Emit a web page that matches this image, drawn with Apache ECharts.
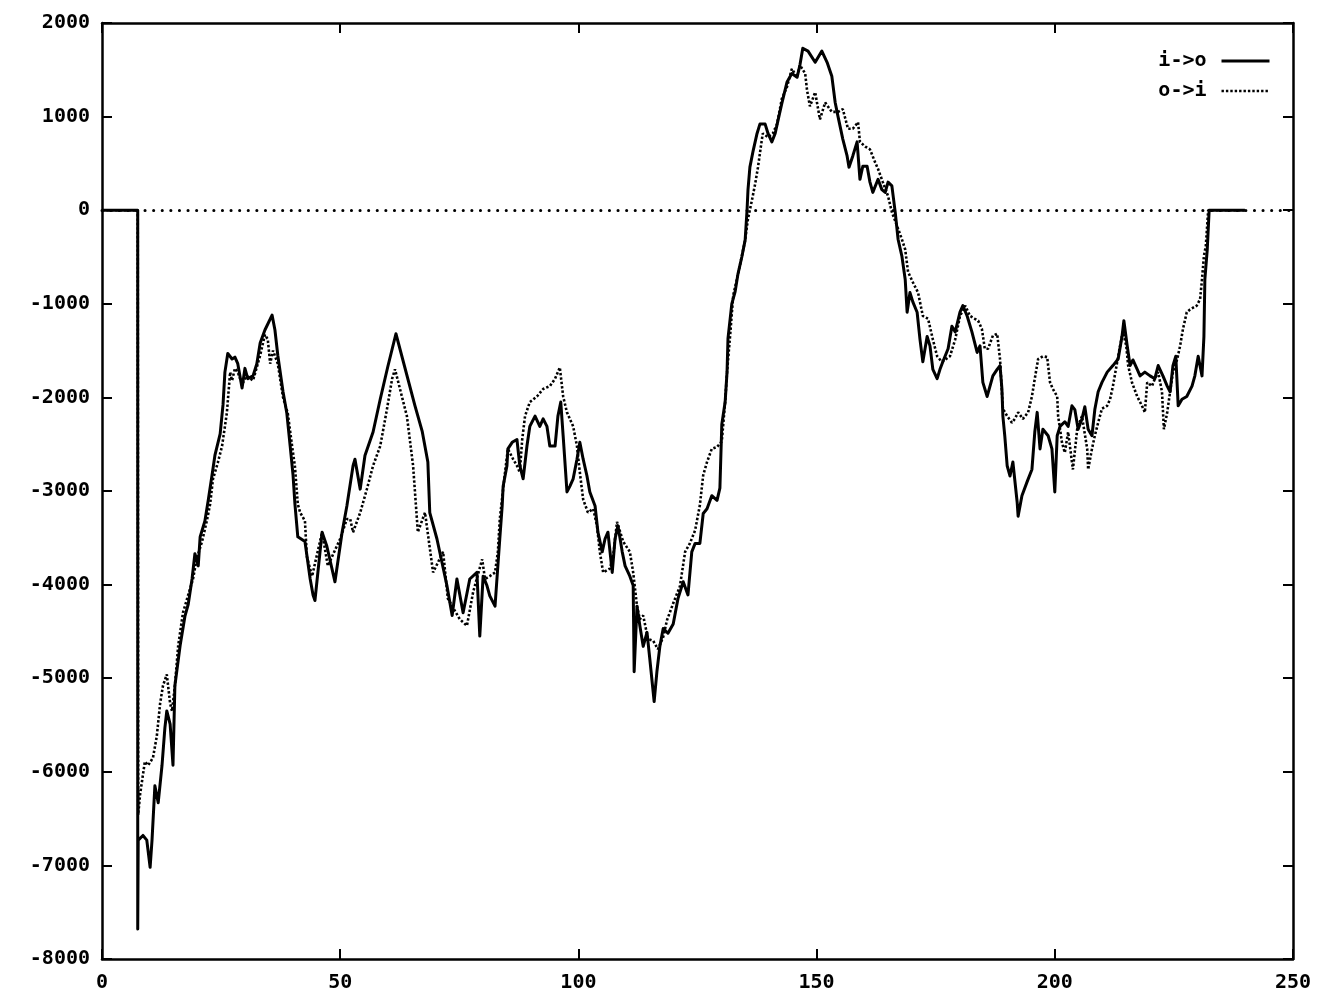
<!DOCTYPE html>
<html>
<head>
<meta charset="utf-8">
<script src="https://cdn.jsdelivr.net/npm/echarts@6/dist/echarts.min.js"></script>
<style>
  html, body { margin: 0; padding: 0; background: #fff; }
  #chart { width: 1327px; height: 999px; }
</style>
</head>
<body>
<div id="chart"></div>
<script>
// Cumulative difference per step, two directions: [step, value]
const ioPoints = [
  [0, 0], [7.5, 0], [7.5, -7680], [7.6, -6730], [8.6, -6680], [9.4, -6730], [10.1, -7020], [10.5, -6730],
  [11.1, -6150], [11.8, -6330], [12.6, -5930], [13.2, -5530], [13.6, -5350], [14.3, -5490], [14.9, -5930],
  [15.3, -5080], [16.4, -4650], [17.4, -4340], [18.1, -4210], [18.9, -3940], [19.5, -3670], [20.2, -3800],
  [20.6, -3490], [21.6, -3320], [22.3, -3100], [23.1, -2830], [23.7, -2620], [24.8, -2390], [25.4, -2080],
  [25.8, -1730], [26.4, -1530], [27.3, -1590], [27.9, -1570], [28.5, -1640], [29.4, -1900], [30.0, -1690],
  [30.6, -1800], [31.7, -1770], [32.5, -1640], [33.2, -1420], [34.2, -1280], [35.7, -1120], [36.3, -1280],
  [36.9, -1550], [38.0, -1940], [38.8, -2170], [39.5, -2520], [40.1, -2830], [40.5, -3140], [41.1, -3490],
  [42.6, -3540], [43.7, -3940], [44.3, -4110], [44.7, -4170], [46.2, -3440], [47.2, -3590], [48.9, -3970],
  [50.4, -3440], [51.4, -3160], [52.7, -2730], [53.1, -2660], [54.2, -2980], [55.2, -2620], [56.9, -2370],
  [58.4, -2020], [60.0, -1670], [61.7, -1320], [65.7, -2090], [67.2, -2360], [68.4, -2690], [68.8, -3230],
  [70.3, -3510], [72.4, -4010], [73.5, -4330], [74.5, -3940], [75.8, -4300], [77.2, -3940], [78.7, -3870],
  [79.3, -4550], [80.0, -3910], [80.8, -4010], [81.4, -4120], [82.5, -4230], [82.9, -3940], [83.5, -3510],
  [84.0, -3160], [84.2, -2950], [85.0, -2730], [85.2, -2550], [86.1, -2480], [87.1, -2450], [87.7, -2730],
  [88.4, -2870], [89.2, -2520], [89.8, -2310], [90.9, -2200], [91.9, -2310], [92.6, -2230], [93.4, -2310],
  [94.0, -2520], [95.1, -2520], [95.7, -2200], [96.3, -2050], [96.8, -2410], [97.6, -3010], [98.2, -2950],
  [98.9, -2870], [99.7, -2660], [100.3, -2480], [101.0, -2660], [101.8, -2840], [102.4, -3010], [103.5, -3160],
  [104.1, -3440], [105.0, -3650], [105.6, -3510], [106.2, -3440], [107.1, -3870], [107.7, -3510], [108.3, -3370],
  [109.2, -3650], [109.8, -3800], [110.8, -3910], [111.5, -4010], [111.7, -4930], [112.3, -4230], [112.9, -4440],
  [113.6, -4660], [114.4, -4510], [115.0, -4800], [115.9, -5250], [116.5, -4920], [117.1, -4660], [117.8, -4470],
  [118.8, -4520], [119.9, -4420], [120.9, -4150], [122.0, -3970], [123.0, -4110], [123.8, -3650], [124.5, -3560],
  [125.5, -3560], [126.2, -3240], [127.0, -3190], [128.0, -3050], [129.1, -3100], [129.7, -2970], [130.1, -2290],
  [130.8, -2050], [131.2, -1730], [131.4, -1370], [132.2, -1000], [132.9, -870], [133.5, -680], [134.3, -500],
  [135.0, -320], [135.4, 0], [135.6, 220], [136.0, 460], [136.7, 640], [137.5, 820], [138.1, 920], [139.2, 920],
  [139.8, 820], [140.6, 730], [141.3, 820], [141.9, 960], [142.7, 1140], [143.8, 1370], [144.8, 1460],
  [145.9, 1420], [146.5, 1550], [147.1, 1730], [148.2, 1700], [149.7, 1580], [151.1, 1700], [152.2, 1580],
  [153.2, 1430], [153.9, 1150], [154.5, 1000], [155.5, 760], [156.4, 580], [156.8, 460], [157.6, 580],
  [158.5, 730], [159.1, 330], [159.7, 470], [160.6, 470], [161.2, 300], [161.8, 190], [162.9, 330],
  [163.7, 220], [164.4, 190], [165.0, 300], [165.8, 260], [166.5, -20], [167.1, -310], [167.9, -490],
  [168.6, -740], [169.0, -1090], [169.6, -880], [170.2, -980], [171.1, -1090], [171.7, -1380], [172.3, -1620],
  [173.2, -1350], [173.8, -1450], [174.4, -1700], [175.3, -1800], [175.9, -1700], [176.5, -1620], [177.6, -1480],
  [178.4, -1240], [179.1, -1300], [180.1, -1090], [180.7, -1020], [181.6, -1130], [182.6, -1300], [183.7, -1520],
  [184.3, -1450], [184.9, -1840], [185.8, -1990], [186.4, -1880], [187.0, -1770], [187.9, -1700], [188.5, -1660],
  [188.9, -1910], [189.1, -2200], [189.5, -2410], [190.0, -2730], [190.6, -2840], [191.2, -2690], [192.1, -3120],
  [192.3, -3270], [193.1, -3050], [194.2, -2900], [195.2, -2770], [195.8, -2370], [196.3, -2160], [196.9, -2550],
  [197.5, -2340], [198.6, -2410], [199.4, -2550], [200.0, -3010], [200.5, -2410], [201.1, -2310], [202.1, -2260],
  [202.8, -2310], [203.6, -2090], [204.2, -2130], [204.9, -2340], [205.7, -2230], [206.3, -2100], [207.0, -2340],
  [207.8, -2410], [208.4, -2130], [209.1, -1940], [209.9, -1840], [211.0, -1730], [212.2, -1660], [213.3, -1590],
  [214.1, -1350], [214.5, -1180], [215.2, -1450], [215.8, -1660], [216.4, -1600], [217.3, -1700], [217.9, -1770],
  [218.9, -1730], [220.0, -1770], [221.0, -1800], [221.7, -1660], [222.7, -1770], [223.6, -1880], [224.2, -1940],
  [224.8, -1660], [225.4, -1560], [225.9, -2090], [226.7, -2020], [227.7, -1990], [228.8, -1880], [229.4, -1770],
  [230.1, -1560], [230.9, -1770], [231.3, -1350], [231.5, -740], [232.0, -420], [232.4, 0], [239.9, 0]
];

const oiPoints = [
  [0, 0], [7.5, 0], [7.6, -6460], [8.0, -6240], [9.0, -5890], [9.7, -5930], [10.7, -5850], [11.5, -5620],
  [12.2, -5270], [12.8, -5080], [13.6, -4960], [14.3, -5270], [14.7, -5350], [15.3, -5080], [16.0, -4650],
  [17.0, -4300], [18.1, -4110], [19.1, -3940], [19.9, -3720], [21.0, -3540], [22.0, -3320], [22.7, -3140],
  [23.3, -2870], [24.3, -2700], [25.2, -2520], [26.2, -2170], [26.9, -1730], [27.3, -1820], [27.9, -1690],
  [28.5, -1730], [29.4, -1860], [30.4, -1770], [31.7, -1820], [33.2, -1550], [34.2, -1330], [34.8, -1380],
  [35.3, -1640], [35.9, -1500], [36.9, -1640], [38.0, -2000], [39.0, -2170], [39.9, -2520], [40.5, -2740],
  [41.1, -3140], [41.6, -3230], [42.6, -3320], [43.0, -3700], [44.1, -3910], [46.2, -3440], [47.4, -3800],
  [50.0, -3510], [51.4, -3300], [52.1, -3300], [52.7, -3440], [54.2, -3230], [55.6, -2980], [56.9, -2730],
  [58.4, -2520], [59.8, -2130], [60.9, -1800], [61.5, -1700], [64.0, -2200], [65.3, -2730], [66.3, -3440],
  [67.8, -3230], [69.5, -3870], [71.6, -3650], [72.6, -4150], [75.1, -4370], [76.6, -4440], [77.9, -4080],
  [79.8, -3730], [80.4, -3940], [81.4, -3910], [82.5, -3870], [83.1, -3650], [83.5, -3300], [84.2, -2980],
  [84.6, -2800], [85.2, -2550], [86.3, -2660], [87.1, -2730], [87.7, -2800], [88.2, -2450], [88.8, -2200],
  [89.8, -2050], [91.3, -1990], [92.6, -1910], [94.0, -1880], [95.1, -1800], [96.1, -1680], [96.8, -1990],
  [97.6, -2160], [98.9, -2310], [99.7, -2520], [100.3, -2800], [101.0, -3090], [102.0, -3230], [103.1, -3190],
  [103.9, -3370], [104.5, -3650], [105.2, -3870], [106.6, -3830], [107.3, -3700], [108.1, -3330], [109.4, -3540],
  [110.8, -3650], [111.5, -3870], [112.3, -4230], [112.9, -4370], [113.6, -4330], [114.6, -4580], [115.7, -4600],
  [116.7, -4690], [117.8, -4560], [118.6, -4380], [119.9, -4200], [121.3, -4020], [122.4, -3650], [123.4, -3560],
  [124.5, -3420], [125.5, -3150], [126.2, -2830], [127.0, -2690], [128.0, -2550], [129.1, -2530], [130.1, -2470],
  [130.8, -2050], [131.2, -1730], [131.8, -1370], [132.5, -910], [133.3, -730], [133.9, -590], [135.0, -320],
  [135.6, -90], [136.4, 100], [137.1, 280], [137.7, 460], [138.3, 680], [138.7, 820], [139.8, 780], [140.8, 820],
  [141.7, 920], [142.7, 1190], [143.8, 1320], [144.8, 1510], [145.9, 1420], [146.5, 1550], [147.6, 1460],
  [148.0, 1280], [148.6, 1110], [149.7, 1260], [150.7, 970], [151.8, 1150], [153.2, 1050], [154.5, 1050],
  [155.5, 1080], [156.6, 870], [157.6, 870], [158.7, 940], [159.1, 730], [160.2, 680], [161.2, 650],
  [162.3, 510], [162.9, 440], [163.9, 300], [165.0, 150], [165.8, -20], [166.9, -170], [167.9, -310],
  [168.6, -420], [169.2, -660], [170.2, -770], [171.3, -880], [172.3, -1130], [173.4, -1160], [174.4, -1380],
  [175.3, -1560], [176.3, -1620], [178.0, -1560], [179.1, -1380], [180.1, -1130], [181.2, -1020], [182.2, -1130],
  [183.2, -1160], [183.9, -1180], [184.7, -1270], [185.3, -1480], [186.0, -1480], [187.0, -1340], [187.9, -1320],
  [188.5, -1590], [189.1, -2120], [190.0, -2200], [191.0, -2270], [191.6, -2230], [192.3, -2160], [193.3, -2230],
  [194.4, -2160], [195.2, -1990], [195.8, -1800], [196.5, -1590], [197.5, -1560], [198.4, -1570], [199.0, -1840],
  [199.6, -1910], [200.5, -1990], [200.7, -2200], [201.5, -2480], [202.1, -2590], [202.8, -2370], [203.6, -2690],
  [203.8, -2770], [204.7, -2340], [205.7, -2200], [206.8, -2550], [207.0, -2770], [207.8, -2550], [208.4, -2410],
  [209.1, -2270], [209.9, -2120], [211.0, -2090], [211.6, -2020], [212.2, -1880], [213.1, -1620], [213.7, -1450],
  [214.3, -1300], [215.0, -1450], [215.4, -1660], [216.2, -1840], [217.3, -1990], [218.3, -2090], [218.9, -2160],
  [219.4, -1840], [220.4, -1880], [221.0, -1800], [221.7, -1730], [222.5, -1940], [222.9, -2340], [223.6, -2160],
  [224.2, -1940], [224.8, -1730], [225.7, -1590], [226.3, -1450], [226.9, -1270], [227.7, -1090], [228.4, -1060],
  [229.8, -1020], [230.5, -950], [230.9, -740], [231.3, -490], [231.7, -380], [232.2, 0], [239.9, 0]
];

const seriesNames = ['i->o', 'o->i'];
const xRange = [0, 250, 50];
const yRange = [-8000, 2000, 1000];

const FONT = '"DejaVu Sans Mono", "Liberation Mono", monospace';
const INK = '#000';

// Line styles shared by the traces and their legend keys
const solidStyle = { color: INK, width: 3, join: 'round' };
const dottedStyle = { color: INK, width: 2.6, type: [2.4, 2] };

const chart = echarts.init(document.getElementById('chart'), null, { renderer: 'canvas' });

function frameAxis(base, extra) {
  return Object.assign({
    type: 'value',
    axisLine: { show: true, onZero: false, lineStyle: { color: INK, width: 2.5 } },
    axisTick: { show: true, inside: true, length: 10, lineStyle: { color: INK, width: 2 } },
    splitLine: { show: false }
  }, base, extra);
}

const labelStyle = {
  color: INK, fontFamily: FONT, fontWeight: 'bold', fontSize: 20,
  formatter: v => String(v)
};

chart.setOption({
  animation: false,
  backgroundColor: '#fff',
  grid: { left: 102, right: 34, top: 23, bottom: 40, containLabel: false },
  legend: {
    orient: 'vertical',
    right: 51,
    top: 46,
    align: 'right',
    itemWidth: 48,
    itemHeight: 14,
    itemGap: 10,
    selectedMode: false,
    itemStyle: { opacity: 0 },
    textStyle: { color: INK, fontFamily: FONT, fontWeight: 'bold', fontSize: 20, padding: [0, 10, 0, 0] },
    data: [
      { name: seriesNames[0], lineStyle: solidStyle },
      { name: seriesNames[1], lineStyle: dottedStyle }
    ]
  },
  xAxis: [
    frameAxis({ min: xRange[0], max: xRange[1], interval: xRange[2], position: 'bottom' }, {
      axisLabel: Object.assign({ margin: 14 }, labelStyle)
    }),
    frameAxis({ min: xRange[0], max: xRange[1], interval: xRange[2], position: 'top' }, {
      axisLabel: { show: false }
    })
  ],
  yAxis: [
    frameAxis({ min: yRange[0], max: yRange[1], interval: yRange[2], position: 'left' }, {
      axisLabel: Object.assign({ margin: 12 }, labelStyle)
    }),
    frameAxis({ min: yRange[0], max: yRange[1], interval: yRange[2], position: 'right' }, {
      axisLabel: { show: false }
    })
  ],
  series: [
    {
      name: seriesNames[0],
      type: 'line',
      data: ioPoints,
      showSymbol: false,
      symbol: 'none',
      lineStyle: solidStyle,
      itemStyle: { color: INK },
      z: 3,
      markLine: {
        silent: true,
        symbol: 'none',
        label: { show: false },
        lineStyle: { color: INK, width: 3, type: [0.1, 8.5], cap: 'round' },
        data: [{ yAxis: 0 }],
        z: 1
      }
    },
    {
      name: seriesNames[1],
      type: 'line',
      data: oiPoints,
      showSymbol: false,
      symbol: 'none',
      lineStyle: dottedStyle,
      itemStyle: { color: INK },
      z: 2
    }
  ]
});
</script>
</body>
</html>
